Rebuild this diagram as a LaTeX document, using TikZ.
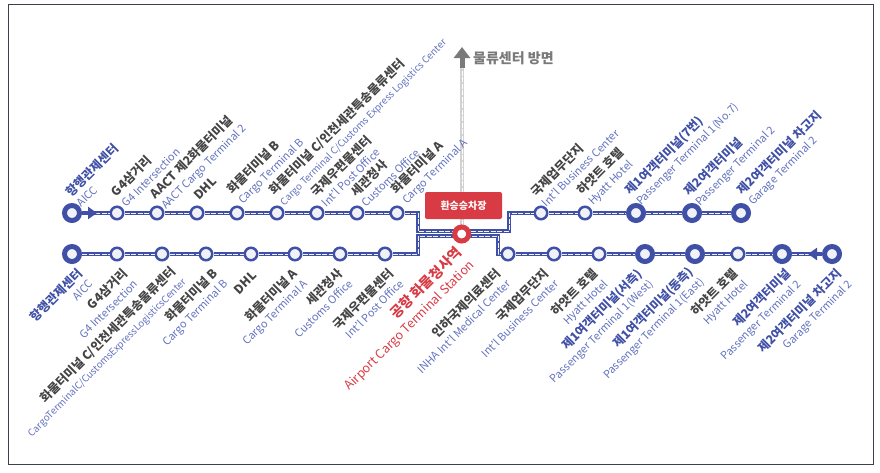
\documentclass[tikz,border=0pt]{standalone}
\usepackage{fontspec}
\setmainfont{Noto Sans CJK KR}
\usetikzlibrary{arrows.meta}
\definecolor{routeblue}{HTML}{3F50A6}
\definecolor{enblue}{HTML}{6272BE}
\definecolor{krgray}{HTML}{444444}
\definecolor{hubred}{HTML}{D93B44}
\definecolor{framegray}{HTML}{3C3F50}
\definecolor{stopfill}{HTML}{F0F2F8}
\definecolor{towardgray}{HTML}{7A7A7A}
\newcommand{\enname}[1]{{\fontsize{10.9}{14.5}\selectfont\mdseries\color{enblue}#1}}
\newcommand{\enlong}[1]{{\fontsize{9.7}{14.5}\selectfont\mdseries\color{enblue}#1}}

\begin{document}
\begin{tikzpicture}[x=1pt, y=-1pt]
    % Styles
    \tikzstyle{stop} = [circle, draw=routeblue, fill=stopfill, line width=2.5pt, minimum size=12.5pt, inner sep=0pt]
    \tikzstyle{bigstop} = [circle, draw=routeblue, fill=stopfill, line width=5pt, minimum size=15pt, inner sep=0pt]
    \tikzstyle{hubstop} = [circle, draw=hubred, fill=white, line width=5pt, minimum size=14pt, inner sep=0pt]
    \tikzstyle{route} = [draw=routeblue, line width=3.2pt, postaction={draw=stopfill, line width=0.9pt, dash pattern=on 5pt off 1.5pt}]
    \tikzstyle{toward} = [draw=gray!35, line width=3.2pt, postaction={draw=white, line width=0.9pt, dash pattern=on 5pt off 1.5pt}]
    \tikzstyle{startarrow} = [draw=routeblue, line width=4.5pt, -{Triangle[length=9pt, width=12pt]}]
    \tikzstyle{upname} = [rotate=45, anchor=south west, align=left, inner sep=0pt, text=krgray, font=\fontsize{12.3}{14.5}\selectfont\bfseries]
    \tikzstyle{downname} = [rotate=45, anchor=north east, align=right, inner sep=0pt, text=krgray, font=\fontsize{12.3}{14.5}\selectfont\bfseries]

    \useasboundingbox (0,0) rectangle (880,472);
    \node[draw=framegray, line width=1pt, minimum width=865pt, minimum height=459.5pt, inner sep=0pt] (frame) at (441,234.5) {};

    % Nodes - upper line
    \node[bigstop] (t1) at (72,213) {};
    \node[stop] (t2) at (117,213) {};
    \node[stop] (t3) at (157,213) {};
    \node[stop] (t4) at (197,213) {};
    \node[stop] (t5) at (237,213) {};
    \node[stop] (t6) at (277,213) {};
    \node[stop] (t7) at (317,213) {};
    \node[stop] (t8) at (357,213) {};
    \node[stop] (t9) at (397,213) {};
    \node[stop] (t10) at (541,213) {};
    \node[stop] (t11) at (585,213) {};
    \node[bigstop] (t12) at (636,213) {};
    \node[bigstop] (t13) at (692,213) {};
    \node[bigstop] (t14) at (741,213) {};

    % Nodes - lower line
    \node[bigstop] (b1) at (72,254) {};
    \node[stop] (b2) at (117,254) {};
    \node[stop] (b3) at (162,254) {};
    \node[stop] (b4) at (206,254) {};
    \node[stop] (b5) at (251,254) {};
    \node[stop] (b6) at (295,254) {};
    \node[stop] (b7) at (340,254) {};
    \node[stop] (b8) at (385,254) {};
    \node[stop] (b9) at (508,254) {};
    \node[stop] (b10) at (554,254) {};
    \node[stop] (b11) at (599,254) {};
    \node[bigstop] (b12) at (645,254) {};
    \node[bigstop] (b13) at (695,254) {};
    \node[stop] (b14) at (738,254) {};
    \node[bigstop] (b15) at (782,254) {};
    \node[bigstop] (b16) at (832,254) {};

    % Bends around the hub
    \coordinate (tjogL) at (418,231);
    \coordinate (tjogR) at (509,231);
    \coordinate (bjogL) at (418,236);
    \coordinate (bjogR) at (498,236);
    \coordinate (ttip) at (97,213);
    \coordinate (btip) at (808,254);
    \coordinate (uptail) at (462,225);
    \coordinate (upstem) at (462,68);
    \coordinate (uptip) at (462,47);

    % Lines
    \draw[toward] (uptail) -- (upstem);
    \draw[draw=towardgray, line width=5pt, -{Triangle[length=11pt, width=16pt]}] (upstem) -- (uptip);
    \draw[route] (t2) -- (t3);
    \draw[route] (t3) -- (t4);
    \draw[route] (t4) -- (t5);
    \draw[route] (t5) -- (t6);
    \draw[route] (t6) -- (t7);
    \draw[route] (t7) -- (t8);
    \draw[route] (t8) -- (t9);
    \draw[route] (t9) -| (tjogL) -- (tjogR) |- (t10);
    \draw[route] (t10) -- (t11);
    \draw[route] (t11) -- (t12);
    \draw[route] (t12) -- (t13);
    \draw[route] (t13) -- (t14);
    \draw[route] (t1) -- (t2);
    \draw[startarrow] (t1) -- (ttip);
    \draw[route] (b1) -- (b2);
    \draw[route] (b2) -- (b3);
    \draw[route] (b3) -- (b4);
    \draw[route] (b4) -- (b5);
    \draw[route] (b5) -- (b6);
    \draw[route] (b6) -- (b7);
    \draw[route] (b7) -- (b8);
    \draw[route] (b8) -| (bjogL) -- (bjogR) |- (b9);
    \draw[route] (b9) -- (b10);
    \draw[route] (b10) -- (b11);
    \draw[route] (b11) -- (b12);
    \draw[route] (b12) -- (b13);
    \draw[route] (b13) -- (b14);
    \draw[route] (b14) -- (b15);
    \draw[route] (b15) -- (b16);
    \draw[startarrow] (b16) -- (btip);

    % Hub and transfer sign
    \node[hubstop] (hub) at (461.7,234) {};
    \node[fill=hubred, rounded corners=2pt, minimum width=77pt, minimum height=27pt, inner sep=0pt, text=white, font=\fontsize{10}{12}\selectfont\bfseries] (transfer) at (463.5,205.5) {환승승차장};
    \node[anchor=west, inner sep=0pt, text=towardgray, font=\fontsize{14}{16}\selectfont\bfseries] (towardname) at (473,58) {물류센터 방면};

    % Names above the upper line
    \node[upname, text=routeblue] (tn1) at (82,208) {항행관제센터\\\enname{AICC}};
    \node[upname] (tn2) at (127,208) {G4삼거리\\\enname{G4 Intersection}};
    \node[upname] (tn3) at (168,212) {AACT 제2화물터미널\\\enname{AACT Cargo Terminal 2}};
    \node[upname] (tn4) at (199,201) {DHL};
    \node[upname] (tn5) at (245,207) {화물터미널 B\\\enname{Cargo Terminal B}};
    \node[upname] (tn6) at (286,208) {화물터미널 C/인천세관특송물류센터\\\enlong{Cargo Terminal C/Customs Express Logistics Center}};
    \node[upname] (tn7) at (327,208) {국제우편물센터\\\enname{Int'l Post Office}};
    \node[upname] (tn8) at (367,208) {세관청사\\\enname{Customs Office}};
    \node[upname] (tn9) at (409,207) {화물터미널 A\\\enname{Cargo Terminal A}};
    \node[upname] (tn10) at (547,208) {국제업무단지\\\enname{Int'l Business Center}};
    \node[upname] (tn11) at (595,208) {하얏트 호텔\\\enname{Hyatt Hotel}};
    \node[upname, text=routeblue] (tn12) at (643,208) {제1여객터미널(7번)\\\enname{Passenger Terminal 1(No.7)}};
    \node[upname, text=routeblue] (tn13) at (702,209) {제2여객터미널\\\enname{Passenger Terminal 2}};
    \node[upname, text=routeblue] (tn14) at (755,208) {제2여객터미널 차고지\\\enname{Garage Terminal 2}};

    % Names below the lower line
    \node[downname, text=routeblue] (bn1) at (76,267) {항행관제센터\\\enname{AICC}};
    \node[downname] (bn2) at (121,267) {G4삼거리\\\enname{G4 Intersection}};
    \node[downname] (bn3) at (169,265) {화물터미널 C/인천세관특송물류센터\\\enlong{CargoTerminalC/CustomsExpressLogisticsCenter}};
    \node[downname] (bn4) at (211,267) {화물터미널 B\\\enname{Cargo Terminal B}};
    \node[downname] (bn5) at (251,270) {DHL};
    \node[downname] (bn6) at (291,267) {화물터미널 A\\\enname{Cargo Terminal A}};
    \node[downname] (bn7) at (336,267) {세관청사\\\enname{Customs Office}};
    \node[downname] (bn8) at (387,267) {국제우편물센터\\\enname{Int'l Post Office}};
    \node[downname, text=hubred, font=\fontsize{14}{17.5}\selectfont\bfseries] (hubname) at (454,245) {공항 화물청사역\\{\fontsize{12.5}{17.5}\selectfont\mdseries Airport Cargo Terminal Station}};
    \node[downname] (bn9) at (494,267) {인하국제의료센터\\\enname{INHA Int'l Medical Center}};
    \node[downname] (bn10) at (542,267) {국제업무단지\\\enname{Int'l Business Center}};
    \node[downname] (bn11) at (591,267) {하얏트 호텔\\\enname{Hyatt Hotel}};
    \node[downname, text=routeblue] (bn12) at (636,267) {제1여객터미널(서측)\\\enname{Passenger Terminal 1(West)}};
    \node[downname, text=routeblue] (bn13) at (687,265) {제1여객터미널(동측)\\\enname{Passenger Terminal 1(East)}};
    \node[downname] (bn14) at (731,267) {하얏트 호텔\\\enname{Hyatt Hotel}};
    \node[downname, text=routeblue] (bn15) at (784,267) {제2여객터미널\\\enname{Passenger Terminal 2}};
    \node[downname, text=routeblue] (bn16) at (835,267) {제2여객터미널 차고지\\\enname{Garage Terminal 2}};
\end{tikzpicture}
\end{document}
